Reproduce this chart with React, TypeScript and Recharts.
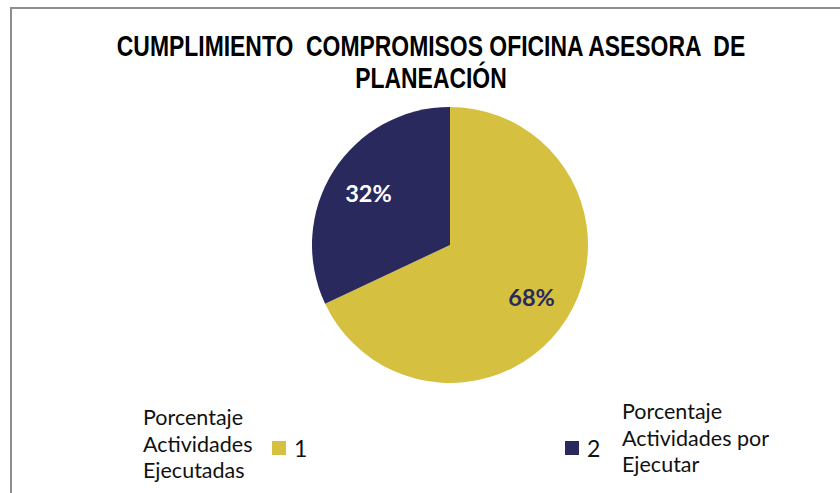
import React from "react"
import { PieChart, Pie, Cell, Legend } from "recharts"

const titleLines = ["CUMPLIMIENTO  COMPROMISOS OFICINA ASESORA  DE", "PLANEACIÓN"]
const categories = ["Porcentaje Actividades Ejecutadas", "Porcentaje Actividades por Ejecutar"]
const legendKeys = ["1", "2"]
const values = [68, 32]
const colors = ["#D5C040", "#29295E"]
const labelColors = ["#29295E", "#FFFFFF"]

const data = categories.map((name, i) => ({ name, key: legendKeys[i], value: values[i] }))

const RADIAN = Math.PI / 180

const renderLabel = (props: any) => {
  const { cx, cy, midAngle, outerRadius, percent, index } = props
  const r = outerRadius * 0.7
  const x = cx + r * Math.cos(-midAngle * RADIAN)
  const y = cy + r * Math.sin(-midAngle * RADIAN)
  return (
    <text
      x={x}
      y={y}
      fill={labelColors[index]}
      textAnchor="middle"
      dominantBaseline="central"
      fontFamily="Lato, sans-serif"
      fontWeight="bold"
      fontSize={23.5}
    >
      {`${Math.round(percent * 100)}%`}
    </text>
  )
}

// legend: label block, colour square, key number
const legendSpots = [
  { textLeft: 143, textTop: 404, boxLeft: 272, numLeft: 294, rowTop: 440 },
  { textLeft: 622, textTop: 398, boxLeft: 565, numLeft: 587, rowTop: 440 },
]

const renderLegend = (props: any) => {
  const { payload } = props
  return (
    <div style={{ position: "relative", width: 840, height: 493 }}>
      {(payload || []).map((entry: any, i: number) => {
        const spot = legendSpots[i]
        const words = entry.payload.name.split(" ")
        const lines = words.length > 3 ? [words[0], words[1] + " " + words[2], words[3]] : words
        return (
          <React.Fragment key={i}>
            <div
              style={{
                position: "absolute",
                left: spot.textLeft,
                top: spot.textTop,
                fontSize: 21.5,
                lineHeight: "26.5px",
                color: "#111",
                textAlign: "left",
                whiteSpace: "nowrap",
              }}
            >
              {lines.map((l: string, j: number) => (
                <div key={j}>{l}</div>
              ))}
            </div>
            <div
              style={{
                position: "absolute",
                left: spot.boxLeft,
                top: spot.rowTop + 1,
                width: 14,
                height: 14,
                background: entry.color,
              }}
            />
            <div
              style={{
                position: "absolute",
                left: spot.numLeft,
                top: spot.rowTop - 6,
                fontSize: 23,
                color: "#111",
              }}
            >
              {entry.payload.key}
            </div>
          </React.Fragment>
        )
      })}
    </div>
  )
}

export default function App() {
  return (
    <div
      style={{
        position: "absolute",
        left: 0,
        top: 0,
        width: 840,
        height: 493,
        background: "#fff",
        fontFamily: "Lato, sans-serif",
        overflow: "hidden",
      }}
    >
      <div
        style={{
          position: "absolute",
          left: 10,
          top: 7,
          width: 840,
          height: 493,
          borderLeft: "2px solid #8E8E8E",
          borderTop: "2px solid #8E8E8E",
        }}
      />
      <div
        style={{
          position: "absolute",
          left: 0,
          width: 862,
          top: 30,
          textAlign: "center",
          fontFamily: "'Liberation Sans', Arial, sans-serif",
          fontWeight: "bold",
          fontSize: 29,
          lineHeight: "32px",
          color: "#000",
          whiteSpace: "pre",
          transform: "scaleX(0.79)",
          transformOrigin: "431px 0",
        }}
      >
        {titleLines.map((t, i) => (
          <div key={i}>{t}</div>
        ))}
      </div>
      <div style={{ position: "absolute", left: 0, top: 0 }}>
        <PieChart width={840} height={493} margin={{ top: 0, right: 0, bottom: 0, left: 0 }}>
          <Pie
            data={data}
            dataKey="value"
            nameKey="key"
            cx={450}
            cy={245}
            outerRadius={138}
            startAngle={90}
            endAngle={-270}
            stroke="none"
            label={renderLabel}
            labelLine={false}
            isAnimationActive={false}
          >
            {data.map((d, i) => (
              <Cell key={d.key} fill={colors[i]} />
            ))}
          </Pie>
          <Legend
            content={renderLegend}
            wrapperStyle={{ position: "absolute", left: 0, top: 0, width: 840, height: 493 }}
          />
        </PieChart>
      </div>
    </div>
  )
}
